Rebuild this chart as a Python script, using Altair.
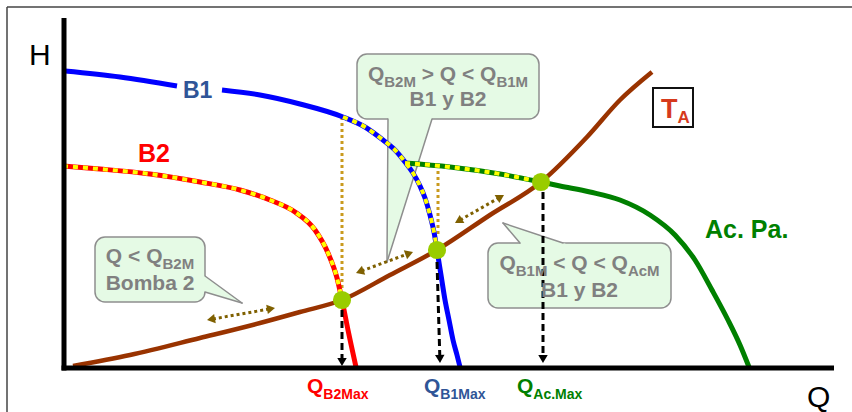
import math
import altair as alt
import pandas as pd

# Head H (upward) against flow Q (rightward); one unit is one pixel of the drawing.
# Pump B1 (the label "B1" sits in a gap of the curve)
B1_Q = [2, 57, 114, 159, 197, 237, 280, 302, 320, 332, 342, 350, 357, 362, 367, 371, 374, 378, 382, 386, 390, 394, 397]
B1_H = [296, 290, 281, 277, 272, 263, 250, 240, 227, 217, 205, 194, 181, 169, 152, 135, 117, 92, 67, 47, 27, 12, 0]
B1_PART = [0, 0, 0, 1, 1, 1, 1, 1, 1, 1, 1, 1, 1, 1, 1, 1, 1, 1, 1, 1, 1, 1, 1]

# Pump B2
B2_Q = [0, 37, 87, 137, 177, 207, 232, 252, 265, 274, 279, 285, 293]
B2_H = [201, 198, 193, 185, 177, 167, 155, 137, 114, 89, 67, 37, 0]

# System curve T_A
TA_Q = [10, 67, 137, 197, 237, 279, 327, 374, 427, 478, 524, 557, 589]
TA_H = [1, 12, 29, 44, 55, 67, 92, 117, 152, 185, 230, 267, 295]

# Pumps in parallel (Ac. Pa.)
AC_Q = [342, 387, 437, 478, 497, 527, 557, 587, 612, 632, 649, 665, 677, 686]
AC_H = [204, 200, 193, 185, 181, 175, 167, 152, 132, 107, 77, 47, 22, 0]

# Active stretches of each curve (yellow dashes)
B1_ACTIVE = (280, 374)
B2_ACTIVE = (0, 279)
AC_ACTIVE = (342, 478)

# Operating points
OP_Q = [279, 374, 478]
OP_H = [67, 117, 185]

# Drop arrows from the operating points to the Q axis
DROP_Q = [279, 374, 480]
DROP_Q_END = [279, 377, 480]
DROP_TOP = [57, 105, 175]
DROP_TIP = [1, 4, 4]
DROP_LABEL_Q = [244, 361, 454]
DROP_LABEL_SUB = ["B2Max", "B1Max", "Ac.Max"]
DROP_LABEL_COLOR = ["#FF0000", "#2F5597", "#008000"]

# Dotted guides from the B1/B2 shut-off heads
GUIDE_Q = [279, 375]
GUIDE_TOP = [250, 202]
GUIDE_BOTTOM = [77, 130]

# Double-headed arrows along the system curve
FLOW_Q1 = [144, 293, 392]
FLOW_H1 = [47, 94, 144]
FLOW_Q2 = [212, 350, 441]
FLOW_H2 = [59, 115, 172]

# Callouts: box (q1, q2, h1, h2), pointer (base1, base2, tip), text lines
CALLOUT_BOX = [(294, 476, 248, 313), (32, 142, 65, 130), (425, 608, 59, 124)]
CALLOUT_TIP = [((325, 248), (369, 248), (324, 105)),
               ((142, 91), (142, 75), (179, 64)),
               ((457, 124), (500, 124), (440, 144))]
CALLOUT_TEXT = [
    [[("Q", False), ("B2M", True), (" > Q < Q", False), ("B1M", True)], [("B1 y B2", False)]],
    [[("Q < Q", False), ("B2M", True)], [("Bomba 2", False)]],
    [[("Q", False), ("B1M", True), (" < Q < Q", False), ("AcM", True)], [("B1 y B2", False)]],
]
CALLOUT_BASELINE = [(286, 261), (104, 77), (97, 70)]

# Curve names
CURVE_LABEL = ["B1", "B2", "Ac. Pa."]
CURVE_LABEL_Q = [120, 75, 642]
CURVE_LABEL_H = [269, 205, 129]
CURVE_LABEL_SIZE = [23, 25, 25]
CURVE_LABEL_COLOR = ["#2F5597", "#FF0000", "#008000"]

# ---------------------------------------------------------------------------
FONT = "Liberation Sans"
BLUE, RED, GREEN, BROWN = "#0000FF", "#FF0000", "#008000", "#993300"
YELLOW = "#FFFF00"
ARROW_BROWN = "#7F6000"
GOLD = "#C99A1E"
CALLOUT_FILL, CALLOUT_STROKE, CALLOUT_INK = "#E5FAE5", "#8E8E8E", "#808080"
POINT_GREEN = "#99CC00"
TA_RED = "#D63A1C"

xs = alt.Scale(domain=[-63, 789], range=[0, 852], nice=False, zero=False)
ys = alt.Scale(domain=[-45, 367], nice=False, zero=False)


def X(f="q"):
    return alt.X(f"{f}:Q", scale=xs, axis=None)


def Y(f="h"):
    return alt.Y(f"{f}:Q", scale=ys, axis=None)


def curve(qs, hs, color, width, dash=None, parts=None, interp="monotone"):
    df = pd.DataFrame({"q": qs, "h": hs, "i": list(range(len(qs)))})
    kw = dict(color=color, strokeWidth=width, strokeCap="butt", strokeJoin="round",
              interpolate=interp)
    if dash:
        kw["strokeDash"] = dash
    enc = dict(x=X(), y=Y(), order="i:Q")
    if parts is not None:
        df["part"] = parts
        enc["detail"] = "part:N"
    return alt.Chart(df).mark_line(**kw).encode(**enc)


def stretch(qs, hs, lo, hi):
    pairs = [(q, h) for q, h in zip(qs, hs) if lo <= q <= hi]
    return [p[0] for p in pairs], [p[1] for p in pairs]


def segments(rows, color, width, dash=None, cap="butt"):
    df = pd.DataFrame(rows, columns=["q1", "h1", "q2", "h2"])
    kw = dict(color=color, strokeWidth=width, strokeCap=cap)
    if dash:
        kw["strokeDash"] = dash
    return alt.Chart(df).mark_rule(**kw).encode(
        x=X("q1"), x2=alt.X2("q2"), y=Y("h1"), y2=alt.Y2("h2"))


HEAD = "M0,0L1,1.7L-1,1.7Z"


def heading(qf, hf, qt, ht):
    return math.degrees(math.atan2(qt - qf, ht - hf)) % 360


def arrows(starts, ends, both, color, width, dash, size=100, cut=6):
    line_rows, head_rows = [], []
    for (q1, h1), (q2, h2) in zip(starts, ends):
        L = math.hypot(q2 - q1, h2 - h1)
        uq, uh = (q2 - q1) / L, (h2 - h1) / L
        a1 = (q1 + uq * cut, h1 + uh * cut) if both else (q1, h1)
        a2 = (q2 - uq * cut, h2 - uh * cut)
        line_rows.append((a1[0], a1[1], a2[0], a2[1]))
        head_rows.append(dict(q=q2, h=h2, a=heading(q1, h1, q2, h2)))
        if both:
            head_rows.append(dict(q=q1, h=h1, a=heading(q2, h2, q1, h1)))
    lines = segments(line_rows, color, width, dash)
    heads = alt.Chart(pd.DataFrame(head_rows)).mark_point(
        shape=HEAD, filled=True, size=size, color=color, opacity=1, strokeWidth=0
    ).encode(x=X(), y=Y(), angle=alt.Angle("a:Q", scale=None))
    return [lines, heads]


BOLD_W = {" ": 278, ".": 278, "<": 584, ">": 584, "1": 556, "2": 556, "A": 722,
          "B": 722, "M": 833, "Q": 778, "T": 611, "a": 556, "c": 556, "x": 556,
          "y": 556, "o": 611, "m": 889, "b": 611, "P": 667}


def text_w(s, size):
    return sum(BOLD_W.get(ch, 556) for ch in s) * size / 1000.0


def rich(parts, h, color, q=None, cq=None, main=21, sub=15, drop=6):
    sizes = [sub if is_sub else main for _, is_sub in parts]
    widths = [text_w(t, s) for (t, _), s in zip(parts, sizes)]
    x = q if q is not None else cq - sum(widths) / 2
    rows = []
    for (t, is_sub), s, w in zip(parts, sizes, widths):
        lead = len(t) - len(t.lstrip(" "))
        rows.append(dict(q=x + text_w(" " * lead, s), h=h - (drop if is_sub else 0),
                         t=t.strip(), s=s, c=color))
        x += w
    return rows


def texts(rows, weight="bold"):
    return alt.Chart(pd.DataFrame(rows)).mark_text(
        align="left", baseline="alphabetic", font=FONT, fontWeight=weight
    ).encode(x=X(), y=Y(), text="t:N",
             size=alt.Size("s:Q", scale=None), color=alt.Color("c:N", scale=None))


layers = []

# Outer frame (top and left edges)
layers.append(segments([(-56, 360, 789, 360), (-56, 360, -56, -45)], "#444444", 1.5))

# Callouts
box_df = pd.DataFrame(CALLOUT_BOX, columns=["q1", "q2", "h1", "h2"])
layers.append(alt.Chart(box_df).mark_rect(
    cornerRadius=10, fill=CALLOUT_FILL, stroke=CALLOUT_STROKE, strokeWidth=1.5
).encode(x=X("q1"), x2=alt.X2("q2"), y=Y("h1"), y2=alt.Y2("h2")))

for (b1, b2, tip) in CALLOUT_TIP:
    ext = 2.5
    if b1[1] == b2[1]:
        # base on a horizontal edge: area runs along H
        hb = b1[1] + (ext if b1[1] > tip[1] else -ext)
        f = (hb - tip[1]) / (b1[1] - tip[1])
        qa = tip[0] + (b1[0] - tip[0]) * f
        qb = tip[0] + (b2[0] - tip[0]) * f
        df = pd.DataFrame({"h": [tip[1], hb], "q1": [tip[0], qa], "q2": [tip[0], qb]})
        layers.append(alt.Chart(df).mark_area(orient="horizontal", color=CALLOUT_FILL, opacity=1)
                      .encode(y=Y(), x=X("q1"), x2=alt.X2("q2")))
    else:
        qb = b1[0] + (-ext if b1[0] < tip[0] else ext)
        f = (qb - tip[0]) / (b1[0] - tip[0])
        ha = tip[1] + (b1[1] - tip[1]) * f
        hb2 = tip[1] + (b2[1] - tip[1]) * f
        df = pd.DataFrame({"q": [qb, tip[0]], "h1": [hb2, tip[1]], "h2": [ha, tip[1]]})
        layers.append(alt.Chart(df).mark_area(orient="vertical", color=CALLOUT_FILL, opacity=1)
                      .encode(x=X(), y=Y("h1"), y2=alt.Y2("h2")))
    layers.append(segments([(b1[0], b1[1], tip[0], tip[1]), (b2[0], b2[1], tip[0], tip[1])],
                           CALLOUT_STROKE, 1.5, cap="round"))

# T_A tag box
layers.append(alt.Chart(pd.DataFrame([dict(q1=590, q2=630, h1=240, h2=279)])).mark_rect(
    fill="white", stroke="#111111", strokeWidth=2
).encode(x=X("q1"), x2=alt.X2("q2"), y=Y("h1"), y2=alt.Y2("h2")))

# Dotted guides
layers.append(segments(list(zip(GUIDE_Q, GUIDE_TOP, GUIDE_Q, GUIDE_BOTTOM)), GOLD, 3, [3, 3]))

# Curves
layers.append(curve(TA_Q, TA_H, BROWN, 4.5))
layers.append(curve(AC_Q, AC_H, GREEN, 5))
layers.append(curve(B2_Q, B2_H, RED, 5))
layers.append(curve(B1_Q, B1_H, BLUE, 5, parts=B1_PART))

# Active stretches
for qs, hs, rng in [(B1_Q, B1_H, B1_ACTIVE), (B2_Q, B2_H, B2_ACTIVE), (AC_Q, AC_H, AC_ACTIVE)]:
    sq, sh = stretch(qs, hs, *rng)
    layers.append(curve(sq, sh, YELLOW, 4, dash=[5, 5]))

# Axes
layers.append(segments([(1, -3.5, 1, 349), (-1.5, -1, 771, -1)], "black", 5))

# Drop arrows
layers += arrows(list(zip(DROP_Q, DROP_TOP)), list(zip(DROP_Q_END, DROP_TIP)), False,
                 "black", 3, [7, 4], size=90)

# Flow arrows
layers += arrows(list(zip(FLOW_Q1, FLOW_H1)), list(zip(FLOW_Q2, FLOW_H2)), True,
                 ARROW_BROWN, 3, [3, 3], size=90)

# Operating points
layers.append(alt.Chart(pd.DataFrame({"q": OP_Q, "h": OP_H})).mark_circle(
    size=330, color=POINT_GREEN, opacity=1).encode(x=X(), y=Y()))

# Text
rows = []
for (q1, q2, _, _), lines, bases in zip(CALLOUT_BOX, CALLOUT_TEXT, CALLOUT_BASELINE):
    for parts, hb in zip(lines, bases):
        rows += rich(parts, hb, CALLOUT_INK, cq=(q1 + q2) / 2)
for q, sub, col in zip(DROP_LABEL_Q, DROP_LABEL_SUB, DROP_LABEL_COLOR):
    rows += rich([("Q", False), (sub, True)], -26, col, q=q, main=21, sub=14, drop=6)
for t, q, h, s, c in zip(CURVE_LABEL, CURVE_LABEL_Q, CURVE_LABEL_H, CURVE_LABEL_SIZE, CURVE_LABEL_COLOR):
    rows.append(dict(q=q, h=h, t=t, s=s, c=c))
rows += rich([("T", False), ("A", True)], 249, TA_RED, q=598, main=27, sub=17, drop=5)
layers.append(texts(rows))

layers.append(texts([dict(q=-34, h=302, t="H", s=30, c="black"),
                     dict(q=744, h=-40, t="Q", s=30, c="black")], weight="normal"))

chart = alt.layer(*layers).properties(
    width=852, height=412, padding=0, autosize="none", background="white"
).configure_view(stroke=None)

chart.save("out.html", embed_options={"renderer": "svg", "actions": False})
